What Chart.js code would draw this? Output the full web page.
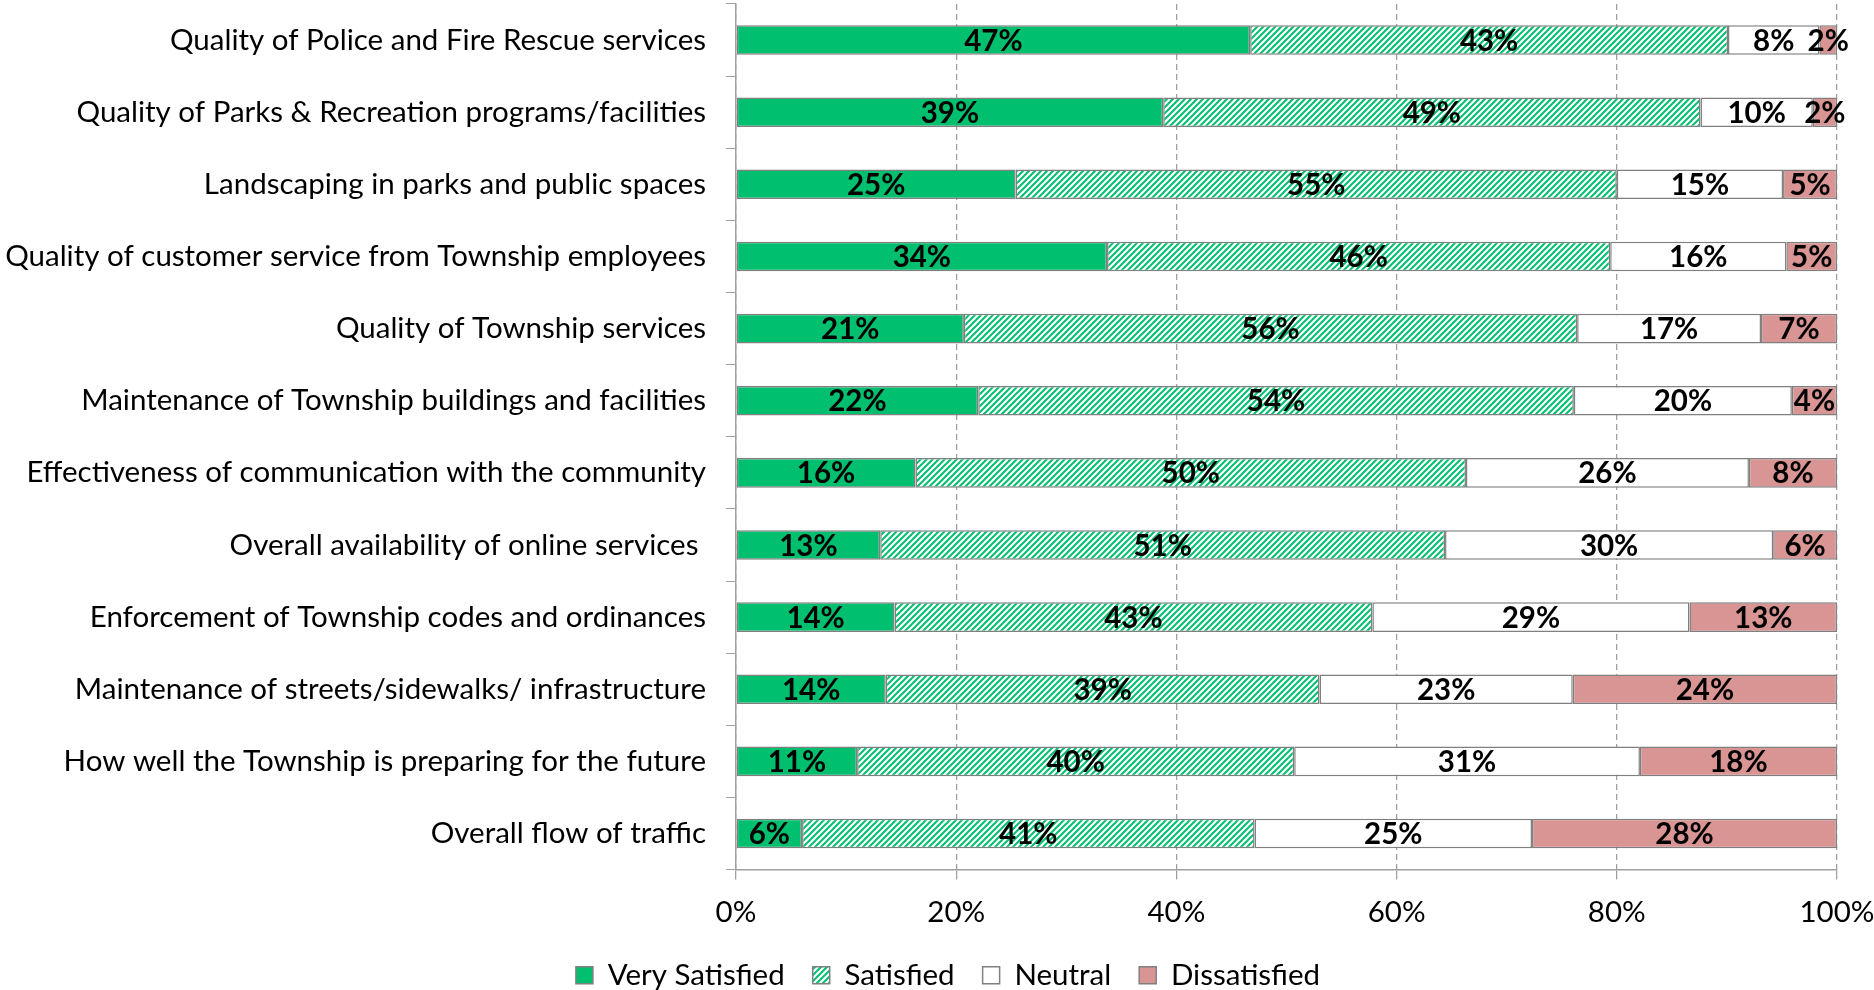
<!DOCTYPE html>
<html>
<head>
<meta charset="utf-8">
<script src="https://cdn.jsdelivr.net/npm/chart.js@4.4.0/dist/chart.umd.min.js"></script>
<style>
    html, body { margin: 0; padding: 0; background: #fff; }
    #wrap { width: 1874px; height: 990px; position: relative; }
</style>
</head>
<body>
<div id="wrap"><canvas id="satisfactionChart"></canvas></div>
<script>
const categories = [
    'Quality of Police and Fire Rescue services',
    'Quality of Parks & Recreation programs/facilities',
    'Landscaping in parks and public spaces',
    'Quality of customer service from Township employees',
    'Quality of Township services',
    'Maintenance of Township buildings and facilities',
    'Effectiveness of communication with the community',
    'Overall availability of online services ',
    'Enforcement of Township codes and ordinances',
    'Maintenance of streets/sidewalks/ infrastructure',
    'How well the Township is preparing for the future',
    'Overall flow of traffic'
];
const verySatisfied = [46.7, 38.8, 25.4, 33.7, 20.7, 22.0, 16.3, 13.1, 14.4, 13.6, 11.0, 6.0];
const satisfied     = [43.4, 48.8, 54.6, 45.7, 55.7, 54.1, 50.0, 51.3, 43.4, 39.4, 39.7, 41.1];
const neutral       = [8.3, 10.2, 15.1, 16.0, 16.7, 19.8, 25.7, 29.8, 28.8, 23.0, 31.4, 25.2];
const dissatisfied  = [1.6, 2.2, 4.9, 4.6, 6.9, 4.1, 8.0, 5.8, 13.4, 24.0, 17.9, 27.7];
const seriesNames = ['Very Satisfied', 'Satisfied', 'Neutral', 'Dissatisfied'];
const xTickStep = 20;

document.addEventListener('DOMContentLoaded', () => {
    const FONT = 'Lato';
    const SIZE = 29.5;
    const green = '#00bf6f';
    const edge = '#808080';

    // diagonal hatch for "Satisfied"
    const makeHatch = () => {
        const tile = document.createElement('canvas');
        tile.width = 6;
        tile.height = 6;
        const t = tile.getContext('2d');
        t.fillStyle = '#fff';
        t.fillRect(0, 0, 6, 6);
        t.strokeStyle = green;
        t.lineWidth = 2;
        t.beginPath();
        t.moveTo(-3, 3); t.lineTo(3, -3);
        t.moveTo(0, 6); t.lineTo(6, 0);
        t.moveTo(3, 9); t.lineTo(9, 3);
        t.stroke();
        return document.createElement('canvas').getContext('2d').createPattern(tile, 'repeat');
    };

    const segmentLabels = {
        id: 'segmentLabels',
        afterDatasetsDraw(chart) {
            const ctx = chart.ctx;
            ctx.save();
            ctx.font = 'bold ' + SIZE + 'px ' + FONT;
            ctx.fillStyle = '#000';
            ctx.textAlign = 'center';
            ctx.textBaseline = 'middle';
            chart.data.datasets.forEach((ds, i) => {
                chart.getDatasetMeta(i).data.forEach((bar, j) => {
                    ctx.fillText(Math.round(ds.data[j]) + '%', (bar.x + bar.base) / 2, bar.y + 1);
                });
            });
            ctx.restore();
        }
    };

    // legend sits a little right of centre and closer to the axis in the original
    const nudgeLegend = {
        id: 'nudgeLegend',
        afterLayout(chart) {
            chart.legend.left += 22;
            chart.legend.top -= 13;
        }
    };

    const fills = [green, makeHatch(), '#ffffff', '#d99594'];
    const values = [verySatisfied, satisfied, neutral, dissatisfied];

    const ctx = document.getElementById('satisfactionChart').getContext('2d');
    new Chart(ctx, {
        type: 'bar',
        data: {
            labels: categories,
            datasets: values.map((v, i) => ({
                label: seriesNames[i],
                data: v,
                backgroundColor: fills[i],
                borderColor: edge,
                borderWidth: 1.5,
                borderSkipped: false,
                categoryPercentage: 1,
                barPercentage: 0.41
            }))
        },
        options: {
            indexAxis: 'y',
            responsive: true,
            maintainAspectRatio: false,
            animation: false,
            layout: { padding: { top: 4, right: 0, bottom: -23, left: 0 } },
            scales: {
                x: {
                    stacked: true,
                    min: 0,
                    max: 100,
                    afterFit: s => { s.paddingRight = 37; },
                    ticks: {
                        stepSize: xTickStep,
                        callback: v => v + '%',
                        color: '#000',
                        font: { family: FONT, size: SIZE, lineHeight: 0.2 },
                        padding: 30
                    },
                    grid: { color: '#a0a0a0', lineWidth: 1.3, tickLength: 10 },
                    border: { display: true, color: '#a0a0a0', width: 1.5, dash: [6, 4] }
                },
                y: {
                    stacked: true,
                    afterFit: s => { s.width = 736; s.paddingTop = 0; s.paddingBottom = 0; },
                    ticks: {
                        color: '#000',
                        font: { family: FONT, size: SIZE },
                        padding: 20
                    },
                    grid: { drawOnChartArea: false, color: '#a0a0a0', tickLength: 10, offset: true },
                    border: { display: true, color: '#a0a0a0', width: 1.5 }
                }
            },
            plugins: {
                legend: {
                    position: 'bottom',
                    labels: {
                        color: '#000',
                        font: { family: FONT, size: SIZE },
                        boxWidth: 17,
                        boxHeight: 17,
                        padding: 28
                    }
                },
                tooltip: { enabled: false }
            }
        },
        plugins: [segmentLabels, nudgeLegend]
    });
});
</script>
</body>
</html>
